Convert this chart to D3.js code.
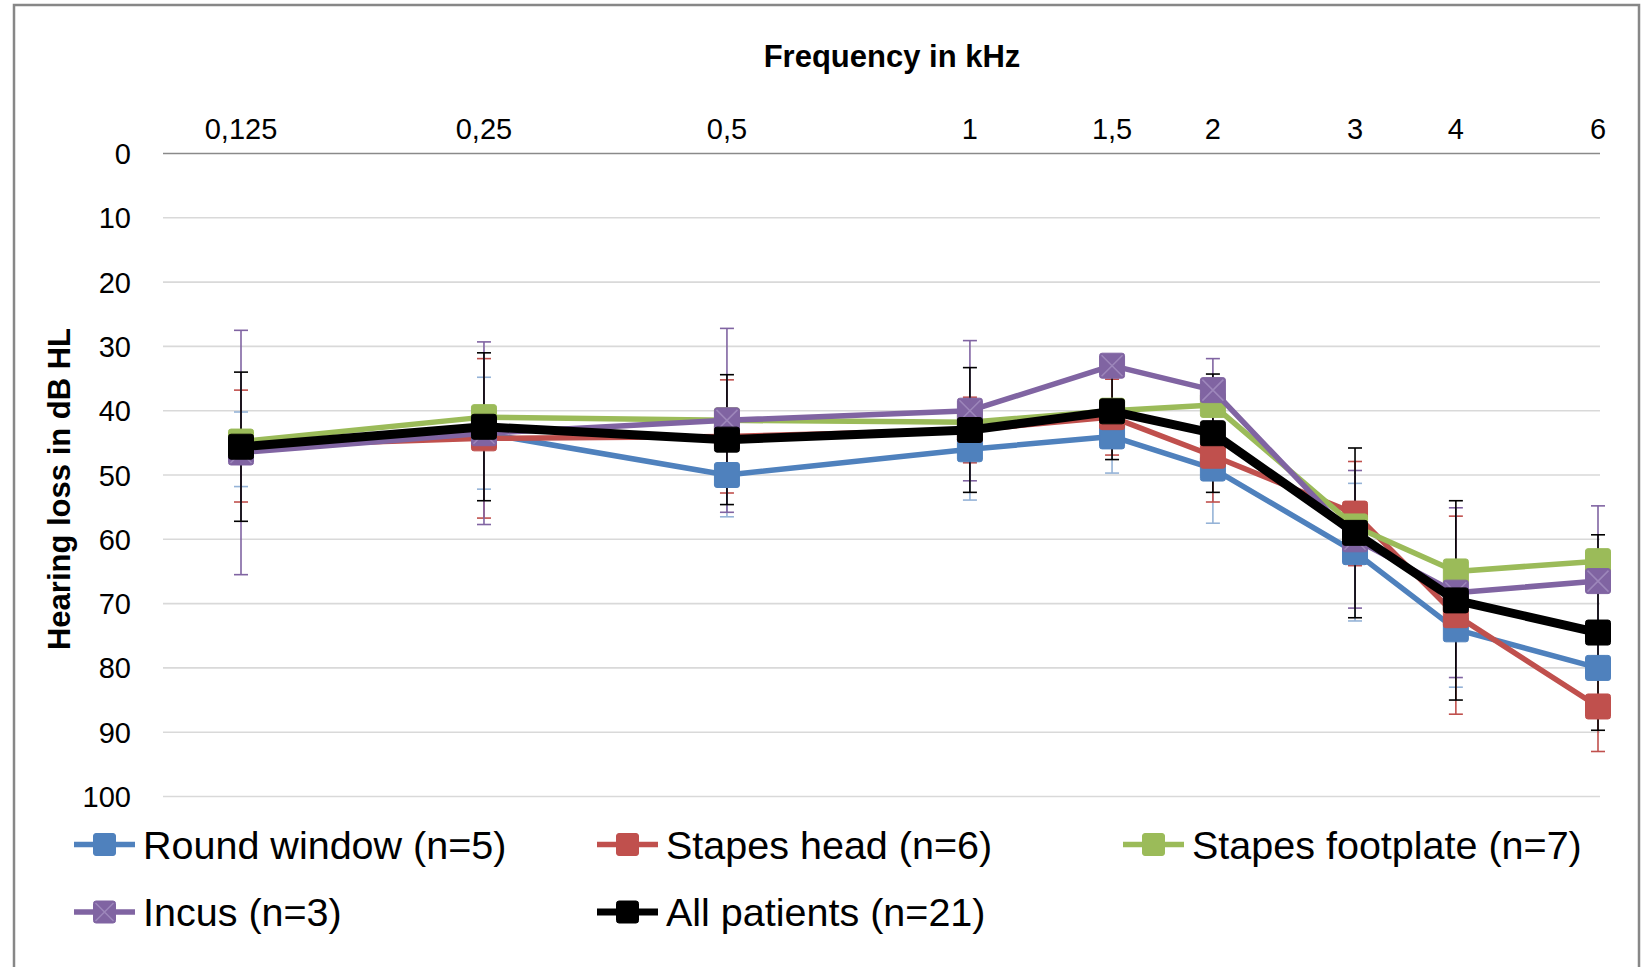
<!DOCTYPE html>
<html><head><meta charset="utf-8">
<script src="https://cdn.jsdelivr.net/npm/d3@7"></script>
<style>body{margin:0;background:#fff}svg{display:block}text{font-family:"Liberation Sans",Arial,sans-serif}</style>
</head><body><svg id="c" width="1649" height="967"></svg>
<script>
const frequencies = [0.125, 0.25, 0.5, 1, 1.5, 2, 3, 4, 6];
const tickLabels = ["0,125", "0,25", "0,5", "1", "1,5", "2", "3", "4", "6"];
const yTicks = [0, 10, 20, 30, 40, 50, 60, 70, 80, 90, 100];
const seriesNames = ["Round window (n=5)", "Stapes head (n=6)", "Stapes footplate (n=7)", "Incus (n=3)", "All patients (n=21)"];
const roundWindow = [46, 43.5, 50, 46, 44, 49, 62, 74, 80];
const roundWindowErr = [5.8, 8.7, 6.5, 7.9, 5.7, 8.5, 10.7, 9, 6];
const stapesHead = [45.5, 44.3, 44, 43, 41, 47, 56, 71.8, 86];
const stapesHeadErr = [8.7, 12.4, 8.8, 5.1, 5.9, 7.2, 8.1, 15.4, 7];
const stapesFootplate = [44.8, 41, 41.5, 41.8, 40, 39.1, 58, 65, 63.4];
const stapesFootplateErr = null;
const incus = [46.5, 43.5, 41.5, 40, 33, 36.8, 60, 68.3, 66.5];
const incusErr = [19, 14.2, 14.3, 10.9, 1.5, 4.9, 10.7, 13.2, 11.7];
const allPatients = [45.6, 42.5, 44.5, 43, 40.1, 43.5, 59, 69.5, 74.5];
const allPatientsErr = [11.6, 11.5, 10.1, 9.7, 7.5, 9.2, 13.2, 15.5, 15.2];

const colors = ["#4F81BD", "#C0504D", "#9BBB59", "#8064A2", "#000000"];
const errColors = ["#95B3D7", "#C0504D", "#9BBB59", "#8064A2", "#000000"];
const lineWidths = [5.5, 5.5, 5.5, 5.5, 9];
const values = [roundWindow, stapesHead, stapesFootplate, incus, allPatients];
const errs = [roundWindowErr, stapesHeadErr, stapesFootplateErr, incusErr, allPatientsErr];

const svg = d3.select("#c");
const x = d3.scaleLog().base(2).domain([0.125, 6]).range([241, 1598]);
const y = d3.scaleLinear().domain([0, 100]).range([153.5, 796.5]);
const gridX1 = 163, gridX2 = 1600;

// chart border
svg.append("rect").attr("x", 14).attr("y", 5).attr("width", 1625).attr("height", 1000)
  .attr("fill", "none").attr("stroke", "#878787").attr("stroke-width", 2.5);

// gridlines
svg.append("g").selectAll("line").data(yTicks).join("line")
  .attr("x1", gridX1).attr("x2", gridX2)
  .attr("y1", d => y(d)).attr("y2", d => y(d))
  .attr("stroke", d => d === 0 ? "#8a8a8a" : "#d9d9d9").attr("stroke-width", 1.6);

// y tick labels
svg.append("g").selectAll("text").data(yTicks).join("text")
  .attr("x", 131).attr("y", d => y(d) + 10.5).attr("text-anchor", "end")
  .attr("font-size", 29).attr("fill", "#000").text(d => d);

// x tick labels
svg.append("g").selectAll("text").data(frequencies).join("text")
  .attr("x", d => x(d)).attr("y", 139).attr("text-anchor", "middle")
  .attr("font-size", 29).attr("fill", "#000").text((d, i) => tickLabels[i]);

// titles
svg.append("text").attr("x", 892).attr("y", 67).attr("text-anchor", "middle")
  .attr("font-size", 31).attr("font-weight", "bold").text("Frequency in kHz");
svg.append("text").attr("transform", "translate(70,489) rotate(-90)").attr("text-anchor", "middle")
  .attr("font-size", 31).attr("font-weight", "bold").text("Hearing loss in dB HL");

// error bars
const capW = 7;
const eg = svg.append("g");
values.forEach((vals, s) => {
  if (!errs[s]) return;
  const g = eg.append("g").attr("stroke", errColors[s]).attr("stroke-width", 1.6);
  frequencies.forEach((f, i) => {
    const cx = x(f), lo = y(vals[i] - errs[s][i]), hi = y(vals[i] + errs[s][i]);
    g.append("line").attr("x1", cx).attr("x2", cx).attr("y1", lo).attr("y2", hi);
    g.append("line").attr("x1", cx - capW).attr("x2", cx + capW).attr("y1", lo).attr("y2", lo);
    g.append("line").attr("x1", cx - capW).attr("x2", cx + capW).attr("y1", hi).attr("y2", hi);
  });
});

const line = d3.line().x(d => x(d[0])).y(d => y(d[1]));
const ms = 25;
function marker(g, s, cx, cy, size) {
  g.append("rect").attr("x", cx - size / 2).attr("y", cy - size / 2).attr("width", size).attr("height", size)
    .attr("rx", 2.5).attr("fill", colors[s]).attr("stroke", colors[s]).attr("stroke-width", 1);
  if (s === 3) {
    const h = size / 2 - 2;
    g.append("path").attr("d", `M${cx - h},${cy - h}L${cx + h},${cy + h}M${cx - h},${cy + h}L${cx + h},${cy - h}`)
      .attr("stroke", "#9d87bb").attr("stroke-width", 1.5).attr("fill", "none");
  }
}
values.forEach((vals, s) => {
  const g = svg.append("g");
  const pts = frequencies.map((f, i) => [f, vals[i]]);
  g.append("path").attr("d", line(pts)).attr("fill", "none").attr("stroke", colors[s])
    .attr("stroke-width", lineWidths[s]).attr("stroke-linejoin", "round");
  pts.forEach(p => marker(g, s, x(p[0]), y(p[1]), ms));
});

// legend
const colX = [74, 597, 1123], rowY = [844.5, 912];
const lg = svg.append("g");
seriesNames.forEach((name, s) => {
  const lx = colX[s % 3], ly = rowY[Math.floor(s / 3)];
  const g = lg.append("g");
  g.append("line").attr("x1", lx).attr("x2", lx + 61).attr("y1", ly).attr("y2", ly)
    .attr("stroke", colors[s]).attr("stroke-width", Math.min(lineWidths[s], 7));
  marker(g, s, lx + 30.5, ly, 22);
  g.append("text").attr("x", lx + 69).attr("y", ly + 14).attr("font-size", 39.5).attr("fill", "#000").text(name);
});
</script></body></html>
